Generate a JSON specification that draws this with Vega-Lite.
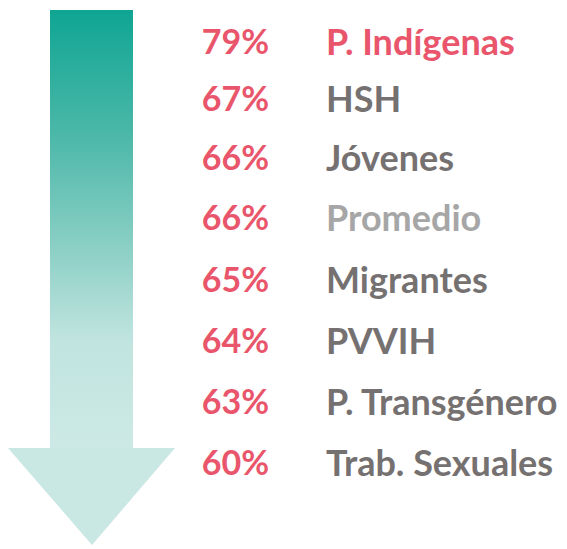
{
  "$schema": "https://vega.github.io/schema/vega-lite/v6.json",
  "width": 567,
  "height": 549,
  "autosize": {"type": "fit", "contains": "padding"},
  "padding": 0,
  "background": "white",
  "config": {"view": {"stroke": null}},
  "datasets": {
    "shaft": [{"x": 50, "x2": 133, "y": 10, "y2": 449}],
    "head": [
      {"x": 8, "ytop": 448, "ybot": 448},
      {"x": 92, "ytop": 448, "ybot": 545},
      {"x": 175, "ytop": 448, "ybot": 448}
    ],
    "rows": [
      {"y": 44, "pct": "79%", "label": "P. Indígenas", "kind": "highlight"},
      {"y": 101, "pct": "67%", "label": "HSH", "kind": "normal"},
      {"y": 160, "pct": "66%", "label": "Jóvenes", "kind": "normal"},
      {"y": 220, "pct": "66%", "label": "Promedio", "kind": "average"},
      {"y": 282, "pct": "65%", "label": "Migrantes", "kind": "normal"},
      {"y": 343, "pct": "64%", "label": "PVVIH", "kind": "normal"},
      {"y": 404, "pct": "63%", "label": "P. Transgénero", "kind": "normal"},
      {"y": 465, "pct": "60%", "label": "Trab. Sexuales", "kind": "normal"}
    ]
  },
  "layer": [
    {
      "data": {"name": "shaft"},
      "mark": {
        "type": "rect",
        "fill": {
          "gradient": "linear", "x1": 0, "y1": 0, "x2": 0, "y2": 1,
          "stops": [
            {"offset": 0, "color": "#0fa593"},
            {"offset": 0.3, "color": "#4fb9aa"},
            {"offset": 0.55, "color": "#8dd0c6"},
            {"offset": 0.75, "color": "#c0e4df"},
            {"offset": 1, "color": "#cde9e5"}
          ]
        }
      },
      "encoding": {
        "x": {"field": "x", "type": "quantitative", "scale": {"domain": [0, 567]}, "axis": null},
        "x2": {"field": "x2"},
        "y": {"field": "y", "type": "quantitative", "scale": {"domain": [0, 549], "reverse": true}, "axis": null},
        "y2": {"field": "y2"}
      }
    },
    {
      "data": {"name": "head"},
      "mark": {"type": "area", "color": "#c9e7e3", "interpolate": "linear"},
      "encoding": {
        "x": {"field": "x", "type": "quantitative", "scale": {"domain": [0, 567]}, "axis": null},
        "y": {"field": "ytop", "type": "quantitative", "scale": {"domain": [0, 549], "reverse": true}, "axis": null},
        "y2": {"field": "ybot"}
      }
    },
    {
      "data": {"name": "rows"},
      "mark": {"type": "text", "align": "right", "baseline": "middle", "font": "Lato", "fontWeight": "bold", "fontSize": 34, "color": "#e9566b"},
      "encoding": {
        "x": {"datum": 269, "type": "quantitative", "scale": {"domain": [0, 567]}, "axis": null},
        "y": {"field": "y", "type": "quantitative", "scale": {"domain": [0, 549], "reverse": true}, "axis": null},
        "text": {"field": "pct"}
      }
    },
    {
      "data": {"name": "rows"},
      "mark": {"type": "text", "align": "left", "baseline": "middle", "font": "Lato", "fontWeight": "bold", "fontSize": 36},
      "encoding": {
        "x": {"datum": 326, "type": "quantitative", "scale": {"domain": [0, 567]}, "axis": null},
        "y": {"field": "y", "type": "quantitative", "scale": {"domain": [0, 549], "reverse": true}, "axis": null},
        "text": {"field": "label"},
        "color": {
          "field": "kind", "type": "nominal", "legend": null,
          "scale": {"domain": ["highlight", "normal", "average"], "range": ["#e9566b", "#767171", "#a6a6a6"]}
        }
      }
    }
  ]
}
